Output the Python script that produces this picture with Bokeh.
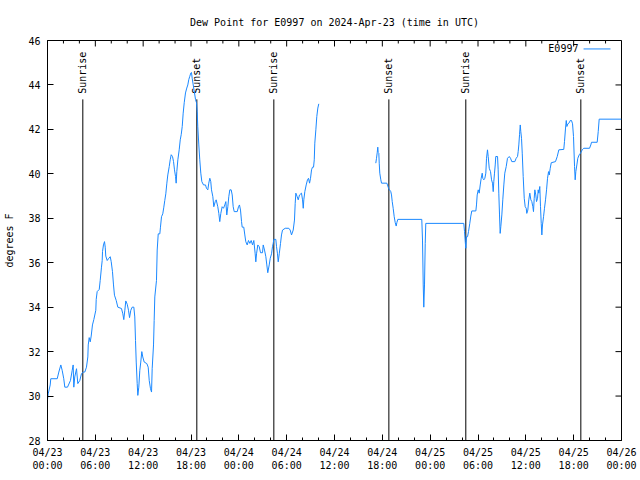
import math
from bokeh.plotting import figure
from bokeh.models import FixedTicker, Range1d, Label, Arrow
from bokeh.core.properties import value
from bokeh.embed import file_html
from bokeh.resources import INLINE

# ---------------- data (hours since 2024-04-23 00:00 UTC, degrees F) ----------------
station = "E0997"
title_text = "Dew Point for E0997 on 2024-Apr-23 (time in UTC)"

obs_before_gap = [
    (0.00, 29.84), (0.09, 30.10), (0.34, 30.50), (0.41, 30.78), (1.22, 30.78), (1.42, 31.08),
    (1.67, 31.40), (1.84, 31.16), (2.04, 30.78), (2.17, 30.40), (2.51, 30.40), (2.88, 30.70),
    (3.10, 31.16), (3.22, 31.40), (3.30, 30.40), (3.42, 30.86), (3.64, 31.23), (3.80, 30.56),
    (4.05, 30.70), (4.26, 31.00), (4.48, 31.08), (4.68, 31.08), (4.89, 31.30), (5.06, 31.76),
    (5.11, 32.30), (5.23, 32.63), (5.36, 32.44), (5.48, 32.70), (5.64, 33.20), (5.81, 33.44),
    (6.06, 33.86), (6.11, 34.35), (6.23, 34.70), (6.49, 34.80), (6.61, 35.20), (6.77, 35.80),
    (6.86, 36.10), (6.90, 36.50), (7.02, 36.80), (7.15, 36.95), (7.24, 36.70), (7.31, 36.30),
    (7.49, 36.10), (7.69, 36.20), (7.87, 36.27), (7.99, 36.05), (8.15, 35.60), (8.28, 35.00),
    (8.40, 34.54), (8.62, 34.30), (8.82, 34.00), (9.28, 33.94), (9.45, 33.70), (9.57, 33.44),
    (9.70, 33.86), (9.82, 34.28), (10.00, 34.13), (10.16, 33.86), (10.29, 33.53), (10.45, 33.86),
    (10.62, 34.00), (10.83, 34.00), (10.95, 33.56), (11.04, 32.50), (11.13, 31.53), (11.25, 30.56),
    (11.33, 30.03), (11.45, 30.40), (11.58, 31.16), (11.70, 31.53), (11.83, 32.00), (11.95, 31.76),
    (12.13, 31.53), (12.46, 31.46), (12.63, 31.30), (12.76, 30.70), (12.92, 30.33), (13.05, 30.18),
    (13.13, 31.23), (13.30, 32.30), (13.38, 33.40), (13.46, 34.46), (13.67, 35.20), (13.76, 36.57),
    (13.89, 37.30), (14.09, 37.30), (14.17, 37.60), (14.30, 38.07), (14.46, 38.20), (14.59, 38.50),
    (14.71, 38.80), (14.84, 39.10), (14.97, 39.58), (15.09, 39.95), (15.27, 40.33), (15.39, 40.63),
    (15.52, 40.86), (15.68, 40.78), (15.81, 40.55), (15.93, 40.18), (16.06, 39.88), (16.14, 39.58),
    (16.22, 40.10), (16.35, 40.63), (16.52, 41.08), (16.65, 41.53), (16.77, 41.76), (16.90, 42.13),
    (17.02, 42.73), (17.15, 43.20), (17.31, 43.64), (17.47, 43.86), (17.60, 44.00), (17.72, 44.24),
    (17.85, 44.39), (17.98, 44.54), (18.06, 44.56), (18.15, 44.30), (18.28, 44.00), (18.44, 43.64),
    (18.57, 43.34), (18.69, 43.20), (18.78, 42.80), (18.85, 42.13), (18.98, 41.30), (19.10, 40.63),
    (19.23, 40.03), (19.36, 39.65), (19.57, 39.50), (19.82, 39.50), (19.94, 39.35), (20.11, 39.28),
    (20.23, 39.58), (20.36, 39.80), (20.48, 39.65), (20.57, 39.28), (20.74, 38.97), (20.86, 38.52),
    (21.04, 38.75), (21.16, 38.83), (21.36, 38.52), (21.49, 38.22), (21.61, 37.85), (21.74, 38.22),
    (21.91, 38.52), (22.08, 38.45), (22.24, 38.60), (22.37, 38.75), (22.49, 38.15), (22.62, 38.52),
    (22.74, 38.97), (22.87, 39.28), (23.04, 39.28), (23.17, 39.05), (23.29, 38.52), (23.42, 38.30),
    (23.80, 38.30), (23.96, 38.52), (24.08, 38.60), (24.21, 38.37), (24.34, 37.85), (24.42, 37.60),
    (24.62, 37.60), (24.75, 37.25), (24.87, 36.95), (25.05, 36.80), (25.21, 37.00), (25.38, 36.87),
    (25.55, 37.00), (25.72, 36.80), (25.88, 37.00), (26.05, 36.40), (26.13, 36.04), (26.22, 36.40),
    (26.38, 36.80), (26.56, 36.72), (26.72, 36.45), (26.97, 36.45), (27.06, 36.80), (27.22, 36.57),
    (27.39, 36.27), (27.51, 35.90), (27.63, 35.55), (27.81, 35.90), (27.94, 36.20), (28.10, 36.40),
    (28.22, 36.72), (28.31, 36.87), (28.39, 37.05), (28.64, 37.05), (28.73, 36.72), (28.85, 36.40),
    (28.94, 36.04), (29.07, 36.40), (29.23, 36.87), (29.35, 37.25), (29.48, 37.47), (29.82, 37.55),
    (30.27, 37.55), (30.44, 37.47), (30.61, 37.25), (30.82, 37.47), (30.98, 37.92), (31.07, 38.67),
    (31.15, 39.13), (31.32, 38.97), (31.45, 38.83), (31.61, 39.05), (31.86, 39.13), (31.99, 38.83),
    (32.08, 38.45), (32.15, 38.83), (32.28, 39.20), (32.45, 39.50), (32.61, 39.73), (32.74, 39.80),
    (32.87, 39.58), (32.99, 39.80), (33.12, 40.18), (33.24, 40.30), (33.37, 40.30), (33.46, 40.63),
    (33.53, 41.38), (33.66, 41.98), (33.78, 42.58), (33.91, 42.96), (34.03, 43.15),
]

obs_after_gap = [
    (41.18, 40.48), (41.27, 40.70), (41.36, 40.96), (41.43, 41.20), (41.48, 40.96), (41.56, 40.93),
    (41.61, 40.48), (41.68, 40.03), (41.81, 39.73), (41.90, 39.58), (42.56, 39.58), (42.65, 39.50),
    (42.78, 39.35), (42.90, 39.28), (43.06, 39.20), (43.15, 39.05), (43.24, 38.75), (43.36, 38.45),
    (43.49, 38.07), (43.62, 37.80), (43.74, 37.65), (43.82, 37.80), (43.94, 37.95), (46.95, 37.95),
    (47.04, 37.02), (47.13, 35.00), (47.20, 34.00), (47.29, 35.00), (47.38, 36.87), (47.45, 37.77),
    (52.22, 37.77), (52.31, 37.40), (52.40, 36.95), (52.47, 36.65), (52.56, 37.17), (52.69, 37.17),
    (52.81, 37.40), (52.97, 37.77), (53.10, 38.10), (53.22, 38.33), (53.73, 38.33), (53.81, 38.60),
    (53.90, 39.05), (54.03, 39.28), (54.15, 39.13), (54.28, 39.50), (54.40, 39.80), (54.53, 40.03),
    (54.60, 39.80), (54.73, 39.73), (54.86, 39.80), (54.98, 40.03), (55.07, 40.70), (55.19, 41.08),
    (55.28, 40.78), (55.41, 40.25), (55.57, 40.10), (55.70, 39.73), (55.82, 39.58), (55.91, 39.20),
    (55.98, 39.65), (56.07, 40.03), (56.16, 40.40), (56.23, 40.78), (56.45, 40.78), (56.53, 40.18),
    (56.61, 39.13), (56.70, 38.15), (56.78, 37.32), (56.86, 37.62), (56.99, 38.15), (57.11, 38.83),
    (57.24, 39.50), (57.36, 40.03), (57.54, 40.33), (57.70, 40.70), (57.92, 40.78), (58.08, 40.70),
    (58.24, 40.55), (58.62, 40.55), (58.79, 40.70), (58.96, 40.78), (59.04, 41.00), (59.12, 41.30),
    (59.21, 41.76), (59.30, 42.20), (59.37, 41.90), (59.46, 41.60), (59.55, 40.93), (59.67, 39.88),
    (59.80, 38.90), (59.92, 38.52), (60.05, 38.45), (60.12, 38.22), (60.25, 38.37), (60.37, 38.83),
    (60.50, 39.13), (60.63, 38.83), (60.75, 38.75), (60.88, 38.52), (60.96, 38.30), (61.05, 38.90),
    (61.13, 39.28), (61.25, 39.05), (61.34, 38.75), (61.47, 38.90), (61.55, 39.28), (61.63, 39.13),
    (61.75, 39.43), (61.84, 38.52), (61.93, 37.77), (62.01, 37.25), (62.09, 37.70), (62.22, 38.07),
    (62.34, 38.45), (62.47, 38.83), (62.60, 39.28), (62.72, 39.80), (62.85, 40.10), (62.94, 39.95),
    (63.06, 40.25), (63.19, 40.50), (63.72, 40.55), (63.94, 40.78), (64.14, 41.08), (64.76, 41.10),
    (64.85, 41.45), (64.98, 42.06), (65.07, 42.40), (65.15, 42.13), (65.27, 42.25), (65.45, 42.30),
    (65.57, 42.40), (65.73, 42.40), (65.86, 42.25), (65.98, 41.68), (66.11, 40.33), (66.19, 39.73),
    (66.27, 40.10), (66.40, 40.40), (66.52, 40.70), (66.70, 40.86), (66.86, 40.93), (67.07, 41.08),
    (67.27, 41.15), (67.99, 41.15), (68.15, 41.30), (68.24, 41.42), (68.95, 41.42), (69.08, 41.90),
    (69.20, 42.46), (72.00, 42.46),
]

sun_hours = [4.43, 18.73, 28.39, 42.82, 52.47, 66.90]
sun_labels = ["Sunrise", "Sunset", "Sunrise", "Sunset", "Sunrise", "Sunset"]

x_major_ticks = [0, 6, 12, 18, 24, 30, 36, 42, 48, 54, 60, 66, 72]
x_tick_labels = ["04/23\n00:00", "04/23\n06:00", "04/23\n12:00", "04/23\n18:00",
                 "04/24\n00:00", "04/24\n06:00", "04/24\n12:00", "04/24\n18:00",
                 "04/25\n00:00", "04/25\n06:00", "04/25\n12:00", "04/25\n18:00",
                 "04/26\n00:00"]
x_minor_ticks = [h for h in range(0, 73, 2)]
y_ticks = [28, 30, 32, 34, 36, 38, 40, 42, 44, 46]

# ---------------- figure ----------------
FONT = "DejaVu Sans Mono"
FS = "10px"
LINE_COLOR = "#1a88ff"
X0, X1, Y0, Y1 = 0, 72, 28, 46

t1, v1 = zip(*obs_before_gap)
t2, v2 = zip(*obs_after_gap)

p = figure(width=640, height=480, output_backend="svg", toolbar_location=None,
           x_range=Range1d(X0, X1), y_range=Range1d(Y0, Y1),
           min_border_left=47, min_border_right=19, min_border_top=40, min_border_bottom=40)
p.background_fill_color = "white"
p.border_fill_color = "white"
p.outline_line_color = "black"
p.outline_line_width = 1
p.xgrid.visible = False
p.ygrid.visible = False

p.title.text = title_text
p.title.align = "center"
p.title.text_font = FONT
p.title.text_font_size = FS
p.title.text_font_style = "normal"
p.title.text_color = "black"
p.title.standoff = 26

def style_axis(ax):
    ax.axis_line_color = "black"
    ax.major_tick_line_color = "black"
    ax.minor_tick_line_color = "black"
    ax.major_tick_in = 6
    ax.major_tick_out = 0
    ax.minor_tick_in = 3
    ax.minor_tick_out = 0
    ax.major_label_text_font = FONT
    ax.major_label_text_font_size = FS
    ax.major_label_text_color = "black"
    ax.axis_label_text_font = FONT
    ax.axis_label_text_font_size = FS
    ax.axis_label_text_font_style = "normal"
    ax.axis_label_text_color = "black"

xb = p.xaxis[0]
xb.ticker = FixedTicker(ticks=x_major_ticks, minor_ticks=x_minor_ticks)
xb.major_label_overrides = {t: lab for t, lab in zip(x_major_ticks, x_tick_labels)}
style_axis(xb)
xb.major_label_standoff = 6

yl = p.yaxis[0]
yl.ticker = FixedTicker(ticks=y_ticks, minor_ticks=[])
style_axis(yl)
yl.axis_label = "degrees F"
yl.major_label_standoff = 7
yl.axis_label_standoff = 10

# mirrored ticks on the top and right borders (gnuplot style)
major_len_x = 6 / 7.97    # 6 px expressed in hours
major_len_y = 6 / 22.25   # 6 px expressed in degrees
minor_only = [h for h in x_minor_ticks if h not in x_major_ticks]
p.segment(x0=x_major_ticks, y0=[Y1] * len(x_major_ticks), x1=x_major_ticks,
          y1=[Y1 - major_len_y] * len(x_major_ticks), line_color="black", line_width=1)
p.segment(x0=minor_only, y0=[Y1] * len(minor_only), x1=minor_only,
          y1=[Y1 - major_len_y / 2] * len(minor_only), line_color="black", line_width=1)
p.segment(x0=[X1] * len(y_ticks), y0=y_ticks, x1=[X1 - major_len_x] * len(y_ticks), y1=y_ticks,
          line_color="black", line_width=1)

# sunrise / sunset markers
marker_top = 43.35
p.segment(x0=sun_hours, y0=[Y0] * len(sun_hours), x1=sun_hours, y1=[marker_top] * len(sun_hours),
          line_color="black", line_width=1)
p.text(x=sun_hours, y=[marker_top + 0.25] * len(sun_hours), text=sun_labels,
       angle=math.pi / 2, text_align="left", text_baseline="middle",
       text_font=value(FONT), text_font_size=FS, text_color="black")

# data lines
p.line(list(t1), list(v1), line_color=LINE_COLOR, line_width=1)
p.line(list(t2), list(v2), line_color=LINE_COLOR, line_width=1)

# key (gnuplot style: label then sample)
p.add_layout(Label(x=66.6, y=45.62, text=station, text_align="right", text_baseline="middle",
                   text_font=FONT, text_font_size=FS, text_color="black"))
p.add_layout(Arrow(end=None, x_start=67.24, y_start=45.62, x_end=70.62, y_end=45.62,
                   line_color=LINE_COLOR, line_width=1))

open("out.html", "w").write(file_html(p, INLINE))
